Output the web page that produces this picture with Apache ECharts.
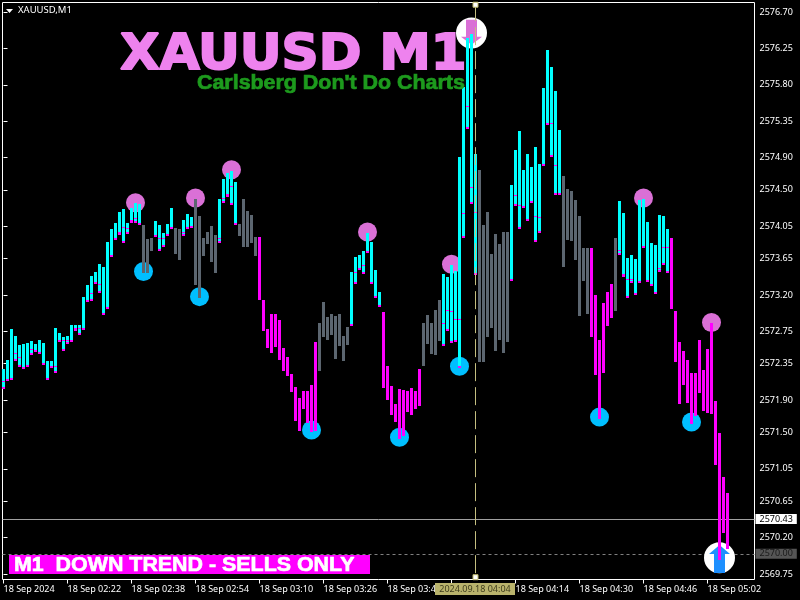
<!DOCTYPE html>
<html><head><meta charset="utf-8">
<style>html,body{margin:0;padding:0;background:#000}#c{width:800px;height:600px}</style>
<script src="https://cdn.jsdelivr.net/npm/echarts@6/dist/echarts.min.js"></script>
</head><body><div id="c"></div>
<script>
// one minute bars, 18 Sep 2024, starting 02:06
const highs = [
2572.29,2572.40,2572.78,2572.69,2572.58,2572.59,2572.61,2572.63,2572.59,2572.64,
2572.61,2572.38,2572.38,2572.79,2572.73,2572.68,2572.69,2572.83,2572.83,2572.83,
2573.18,2573.32,2573.44,2573.48,2573.58,2573.55,2573.86,2574.02,2574.09,2574.23,
2574.26,2574.09,2574.28,2574.34,2574.33,2574.07,2573.89,2573.91,2574.12,2574.07,
2573.97,2574.08,2574.28,2574.03,2574.02,2574.13,2574.20,2574.16,2574.39,2574.18,
2573.91,2573.98,2574.05,2573.94,2574.39,2574.63,2574.71,2574.73,2574.60,2574.08,
2574.39,2574.24,2574.19,2573.92,2573.92,2573.14,2572.78,2572.97,2572.97,2572.89,
2572.54,2572.43,2572.22,2572.06,2571.93,2572.01,2572.01,2572.09,2572.62,2572.85,
2573.11,2572.93,2572.97,2572.94,2572.97,2572.69,2572.80,2573.48,2573.67,2573.70,
2573.74,2573.97,2573.86,2573.51,2573.24,2572.99,2572.32,2572.08,2571.85,2572.04,
2572.03,2572.01,2572.05,2572.01,2572.29,2572.85,2572.95,2572.85,2573.02,2573.14,
2573.46,2573.42,2573.57,2573.50,2574.91,2575.77,2576.38,2576.43,2574.94,2574.75,
2574.07,2574.23,2573.71,2573.95,2573.83,2573.98,2573.98,2574.56,2574.99,2575.23,
2574.75,2574.94,2574.78,2575.03,2574.82,2575.76,2576.23,2576.02,2575.72,2575.24,
2574.67,2574.51,2574.49,2574.38,2574.18,2573.78,2573.78,2573.78,2573.20,2572.64,
2573.10,2573.24,2573.34,2573.91,2574.36,2574.21,2573.66,2573.69,2573.65,2574.38,
2574.39,2574.10,2573.84,2573.82,2574.19,2574.18,2574.02,2573.91,2573.00,2572.62,
2572.51,2572.40,2572.24,2572.24,2572.64,2572.27,2572.53,2572.85,2571.89,2571.49,
2570.95,2570.75];
const lows = [
2572.04,2572.14,2572.15,2572.39,2572.31,2572.29,2572.31,2572.46,2572.50,2572.47,
2572.34,2572.15,2572.30,2572.24,2572.62,2572.51,2572.59,2572.62,2572.75,2572.71,
2572.77,2573.11,2573.13,2573.34,2573.22,2572.95,2573.03,2573.67,2573.88,2573.94,
2573.84,2573.96,2574.09,2574.09,2574.07,2573.47,2573.47,2573.74,2573.92,2573.74,
2573.79,2573.93,2574.02,2573.71,2573.63,2573.93,2574.02,2574.03,2573.32,2573.16,
2573.68,2573.83,2573.61,2573.47,2573.84,2574.34,2574.41,2574.31,2574.07,2573.93,
2573.79,2573.79,2573.84,2573.68,2573.14,2572.75,2572.54,2572.48,2572.56,2572.40,
2572.26,2572.20,2572.00,2571.64,2571.52,2571.79,2571.62,2571.51,2571.52,2572.26,
2572.68,2572.64,2572.71,2572.41,2572.57,2572.38,2572.58,2572.82,2573.34,2573.51,
2573.46,2573.72,2573.34,2573.16,2573.05,2572.05,2571.90,2571.72,2571.63,2571.42,
2571.46,2571.75,2571.72,2571.79,2571.83,2572.32,2572.59,2572.47,2572.46,2572.63,
2572.57,2572.76,2572.61,2572.62,2572.30,2573.90,2575.25,2574.33,2573.45,2572.37,
2572.37,2572.68,2572.79,2572.51,2572.64,2572.48,2572.62,2573.37,2574.30,2574.02,
2574.28,2574.12,2574.34,2573.86,2573.97,2574.80,2575.30,2574.91,2574.44,2574.44,
2573.55,2573.88,2573.87,2573.63,2572.94,2573.37,2572.97,2572.68,2572.21,2571.67,
2572.24,2572.82,2572.92,2573.00,2573.69,2573.42,2573.16,2573.35,2573.20,2573.35,
2573.78,2573.36,2573.31,2573.21,2573.48,2573.57,2573.47,2573.03,2572.37,2571.85,
2572.09,2571.86,2571.60,2571.70,2571.99,2571.77,2571.74,2571.73,2571.10,2569.92,
2570.26,2570.06];
// trend per bar: 0 neutral, 1 up, 2 down
const trends = [
1,1,1,1,1,1,1,1,1,1, 1,1,1,1,1,1,1,1,1,1, 1,1,1,1,1,1,1,1,1,1,
1,1,1,1,1,0,0,0,1,1, 1,1,1,0,0,1,1,1,0,0, 0,0,0,0,1,1,1,1,1,0,
0,0,0,0,2,2,2,2,2,2, 2,2,2,2,2,2,2,2,2,0, 0,0,0,0,0,0,0,1,1,1,
1,1,1,1,1,2,2,2,2,2, 2,2,2,2,2,0,0,0,0,0, 1,1,1,1,1,1,1,1,1,0,
0,0,0,0,0,0,0,1,1,1, 1,1,1,1,1,1,1,1,1,1, 0,0,0,0,0,0,0,2,2,2,
2,2,2,0,1,1,1,1,1,1, 1,1,1,1,1,1,1,2,2,2, 2,2,2,2,2,2,2,2,2,2,
2,2];
// magenta ticks inside the up bars: bar index, price
const midTicks = [
[0,2572.14],[3,2572.48],[4,2572.43],[7,2572.53],[13,2572.32],[15,2572.64],[16,2572.64],[18,2572.79],[19,2572.79],
[22,2573.22],[24,2573.34],[29,2573.98],[30,2574.04],[31,2574.03],[32,2574.13],[33,2574.15],[39,2573.90],[40,2573.90],
[45,2573.98],[54,2573.90],[55,2574.40],[56,2574.45],[57,2574.55],[88,2573.49],[89,2573.53],[90,2573.57],
[110,2572.86],[111,2573.01],[112,2573.00],[113,2572.90],[114,2572.90],[115,2574.22],[116,2575.54],[117,2574.54],[118,2574.23],
[128,2574.44],[129,2574.31],[133,2574.18],[134,2574.16],[137,2575.33],[138,2574.81],
[154,2573.76],[155,2573.46],[156,2573.40],[157,2573.40],[164,2573.53],[165,2573.79],[166,2573.79]];
const peakDots = [[33,2574.34],[48,2574.40],[57,2574.75],[91,2573.98],[112,2573.58],[160,2574.40],[177,2572.86]];
const troughDots = [[35,2573.49],[49,2573.18],[77,2571.53],[99,2571.44],[114,2572.32],[149,2571.69],[172,2571.63]];
const sellSignal = [117,2576.44];
const buySignal = [179,2569.95];
const priceLabels = ['2576.70','2576.25','2575.80','2575.35','2574.90','2574.50','2574.05','2573.65','2573.20','2572.75','2572.35','2571.90','2571.50','2571.05','2570.65','2570.20','2569.75'];
const timeLabels = ['18 Sep 2024','18 Sep 02:22','18 Sep 02:38','18 Sep 02:54','18 Sep 03:10','18 Sep 03:26','18 Sep 03:42','18 Sep 03:58','18 Sep 04:14','18 Sep 04:30','18 Sep 04:46','18 Sep 05:02'];
const timeStep = 16;
const askPrice = 2570.43, bidPrice = 2570.00, crosshairBar = 118;

const COL = ['#5c6670','#00ffff','#ff00ff'];
const FONT = '"Noto Sans"';
const midByBar = {}; midTicks.forEach(d => midByBar[d[0]] = d[1]);
const barData = highs.map((h,i) => [i,h,lows[i],trends[i], midByBar[i]===undefined ? -1 : midByBar[i]]);
const timeTicks = timeLabels.map((_,k) => k*timeStep);
const priceTicks = priceLabels.map(Number);

function renderBar(params, api){
  const i = api.value(0);
  const top = api.coord([i, api.value(1)]);
  const bot = api.coord([i, api.value(2)]);
  const t = api.value(3), m = api.value(4);
  const x = Math.round(top[0]-1.5), y0 = Math.round(top[1]), y1 = Math.round(bot[1]);
  const kids = [{type:'rect',shape:{x:x,y:y0,width:3,height:y1-y0},style:{fill:COL[t]}}];
  if(t===1){
    kids.push({type:'rect',shape:{x:x,y:y1-2,width:3,height:2},style:{fill:COL[2]}});
    if(m>0){
      const ym = Math.round(api.coord([i,m])[1]);
      kids.push({type:'rect',shape:{x:x,y:ym,width:3,height:1},style:{fill:COL[2]}});
    }
  }
  return {type:'group',children:kids};
}
const dotSeries = (data,size,color,z) => ({type:'scatter',data,symbol:'circle',symbolSize:size,itemStyle:{color,opacity:1},z,silent:true,animation:false,clip:false});
const arrowUp = 'path://M10.5 0L21 9L16 9L16 28L5 28L5 9L0 9Z';

const chart = echarts.init(document.getElementById('c'),null,{renderer:'canvas'});
chart.setOption({
  backgroundColor:'#000',
  animation:false,
  grid:{left:2.5,top:2.5,width:752,height:577,show:true,borderColor:'#fff',borderWidth:1,backgroundColor:'transparent',outerBoundsMode:'none'},
  xAxis:{type:'value',min:-0.25,max:187.75,splitLine:{show:false},axisLine:{show:false},
    axisTick:{show:true,length:4,lineStyle:{color:'#fff'},customValues:timeTicks},
    axisLabel:{color:'#fff',fontFamily:FONT,fontSize:9,margin:5,align:'left',customValues:timeTicks,
      formatter:v=>timeLabels[Math.round(v/timeStep)]}},
  yAxis:{type:'value',position:'right',min:2569.6817,max:2576.8175,splitLine:{show:false},axisLine:{show:false},
    axisTick:{show:true,length:4,lineStyle:{color:'#fff'},customValues:priceTicks},
    axisLabel:{color:'#fff',fontFamily:FONT,fontSize:9,margin:5,customValues:priceTicks,formatter:v=>v.toFixed(2)}},
  series:[
    {type:'scatter',data:[],silent:true,z:1,
      markLine:{silent:true,symbol:'none',z:1,animation:false,data:[
        {yAxis:askPrice,lineStyle:{color:'#a0a0a0',width:1,type:'solid'},
          label:{show:true,position:'end',distance:1,formatter:askPrice.toFixed(2),color:'#000',backgroundColor:'#fff',padding:[0,4],fontFamily:FONT,fontSize:9,lineHeight:10}},
        {yAxis:bidPrice,lineStyle:{color:'#808080',width:1,type:[3,3]},
          label:{show:true,position:'end',distance:1,formatter:bidPrice.toFixed(2),color:'#1a1a1a',backgroundColor:'#555',padding:[0,4],fontFamily:FONT,fontSize:9,lineHeight:10}}
      ]}},
    dotSeries(peakDots,19,'#da70d6',2),
    dotSeries(troughDots,19,'#00bfff',2),
    dotSeries([sellSignal,buySignal],31,'#ffffff',2),
    {type:'scatter',data:[[sellSignal[0],2576.45]],symbol:arrowUp,symbolSize:[21,25],symbolRotate:180,itemStyle:{color:'#da70d6',opacity:1},z:3,silent:true,clip:false},
    {type:'scatter',data:[[buySignal[0],2569.935]],symbol:arrowUp,symbolSize:[21,28],itemStyle:{color:'#1e90ff',opacity:1},z:3,silent:true,clip:false},
    {type:'custom',data:barData,renderItem:renderBar,encode:{x:0,y:[1,2]},z:4,silent:true,clip:false},
    {type:'scatter',data:[[crosshairBar,2576.79],[crosshairBar,2569.71]],symbol:'rect',symbolSize:5,itemStyle:{color:'#fff',borderColor:'#bdb76b',borderWidth:1,opacity:1},z:6,silent:true,clip:false,
      markLine:{silent:true,symbol:'none',z:6,animation:false,label:{show:false},data:[
        [{xAxis:crosshairBar,yAxis:2576.76,lineStyle:{color:'#c4be80',width:1,type:[18,6],dashOffset:4}},{xAxis:crosshairBar,yAxis:2569.74}]
      ]}}
  ],
  graphic:[
    {type:'polygon',z:100,shape:{points:[[6,9],[13,9],[9.5,13]]},style:{fill:'#fff'}},
    {type:'text',z:100,x:18,y:10,style:{text:'XAUUSD,M1',fill:'#fff',font:'9.5px '+FONT,textVerticalAlign:'middle'}},
    {type:'text',z:100,x:120,y:56,scaleX:1.03,style:{text:'XAUUSD M1',fill:'#ee82ee',stroke:'#ee82ee',lineWidth:2,font:'bold 50px "DejaVu Sans"',textVerticalAlign:'middle'}},
    {type:'text',z:100,x:197,y:83,scaleX:1.07,style:{text:"Carlsberg Don't Do Charts",fill:'#1d9a1d',stroke:'#1d9a1d',lineWidth:0.7,font:'bold 20px "Liberation Sans"',textVerticalAlign:'middle'}},
    {type:'rect',z:100,shape:{x:9,y:555,width:361,height:19},style:{fill:'#ff00ff'}},
    {type:'text',z:101,x:14,y:565,scaleX:1.07,style:{text:'M1  DOWN TREND - SELLS ONLY',fill:'#fff',stroke:'#fff',lineWidth:0.6,font:'bold 20px "Liberation Sans"',textVerticalAlign:'middle'}},
    {type:'rect',z:100,shape:{x:435,y:583,width:80,height:12},style:{fill:'#b9b36c'}},
    {type:'text',z:101,x:475,y:589,style:{text:'2024.09.18 04:04',fill:'#3f3d1c',font:'9px '+FONT,textAlign:'center',textVerticalAlign:'middle'}}
  ]
});
</script></body></html>
